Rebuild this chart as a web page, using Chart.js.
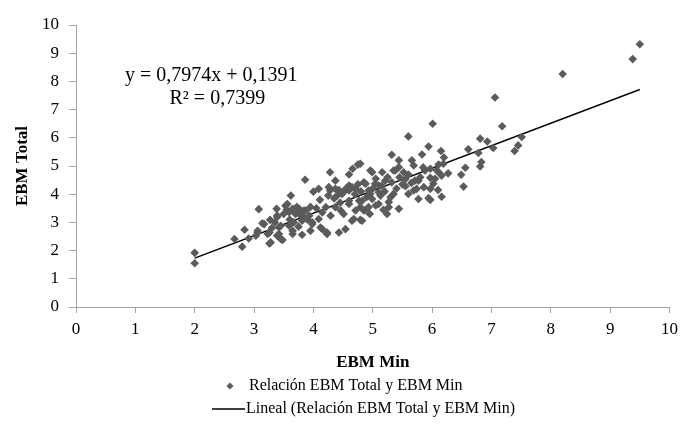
<!DOCTYPE html>
<html>
<head>
<meta charset="utf-8">
<script src="https://cdn.jsdelivr.net/npm/chart.js@4"></script>
<style>
    body { margin: 0; background: #fff; }
    #wrap { width: 684px; height: 434px; }
</style>
</head>
<body>
<div id="wrap"><canvas id="graph"></canvas></div>
<script>
// valores (EBM Min -> x, EBM Total -> y)
let ebmMin = [
    2.00, 2.00, 2.67, 2.80, 2.84, 2.91, 3.03, 3.06, 3.06, 3.08,
    3.14, 3.17, 3.23, 3.26, 3.26, 3.27, 3.28, 3.38, 3.39, 3.39,
    3.39, 3.42, 3.42, 3.45, 3.45, 3.48, 3.53, 3.56, 3.59, 3.59,
    3.62, 3.65, 3.65, 3.65, 3.67, 3.70, 3.76, 3.76, 3.79, 3.81,
    3.81, 3.84, 3.84, 3.86, 3.87, 3.93, 3.95, 3.98, 3.98, 4.00,
    4.09, 4.09, 4.11, 4.12, 4.15, 4.21, 4.23, 4.23, 4.26, 4.28,
    4.28, 4.29, 4.37, 4.37, 4.37, 4.43, 4.43, 4.46, 4.48, 4.51,
    4.54, 4.60, 4.60, 4.60, 4.60, 4.60, 4.65, 4.66, 4.68, 4.71,
    4.71, 4.75, 4.77, 4.79, 4.79, 4.79, 4.82, 4.82, 4.85, 4.85,
    4.88, 4.88, 4.93, 4.93, 4.96, 4.96, 4.99, 4.99, 5.04, 5.10,
    5.10, 5.10, 5.13, 5.16, 5.21, 5.24, 5.27, 5.27, 5.30, 5.32,
    5.32, 5.35, 5.35, 5.38, 5.44, 5.44, 5.44, 5.52, 5.55, 5.55,
    5.60, 5.60, 5.66, 5.69, 5.69, 5.71, 5.74, 5.77, 5.77, 5.83,
    5.86, 5.88, 5.94, 5.94, 5.97, 5.97, 5.97, 5.97, 6.01, 6.02,
    6.08, 6.11, 6.11, 6.15, 6.16, 6.16, 6.19, 6.27, 6.49, 6.53,
    6.56, 6.61, 6.78, 6.81, 6.81, 6.83, 6.93, 7.03, 7.06, 7.18,
    7.39, 7.45, 7.51, 8.20, 9.38, 9.50,
    4.40, 4.50, 4.55, 4.65, 4.70, 4.75, 4.80, 4.90, 5.00, 5.05,
    5.15, 5.20, 5.25, 5.40, 5.45, 5.50, 5.60, 5.65, 5.80, 5.85,
    6.05, 6.10, 6.20, 5.05, 5.18, 4.95, 4.45, 4.35, 4.25, 4.15,
    4.05, 3.95, 3.72, 3.55, 3.50, 3.35, 3.30, 3.60, 3.75, 3.90
]
let ebmTotal = [
    1.92, 1.55, 2.41, 2.14, 2.74, 2.43, 2.53, 2.64, 2.70, 3.47,
    2.97, 2.94, 2.59, 2.25, 2.64, 3.09, 2.29, 3.48, 3.24, 3.19,
    2.53, 2.59, 2.82, 2.41, 2.88, 2.38, 3.59, 3.65, 3.36, 2.88,
    3.95, 3.48, 2.70, 2.59, 3.00, 3.30, 3.48, 3.36, 3.24, 3.06,
    2.56, 3.42, 3.18, 4.51, 3.42, 3.24, 2.70, 3.00, 2.94, 4.09,
    3.12, 4.19, 3.80, 2.82, 2.76, 3.54, 2.59, 2.64, 4.25, 4.78,
    4.13, 3.24, 3.54, 4.48, 4.19, 4.15, 2.64, 3.42, 4.01, 3.30,
    2.76, 4.31, 4.70, 3.65, 3.77, 4.13, 3.06, 4.90, 3.12, 4.19,
    3.42, 5.05, 3.77, 3.09, 5.08, 3.54, 3.77, 3.06, 4.42, 3.42,
    4.37, 3.45, 4.13, 3.54, 4.84, 4.01, 4.78, 3.83, 4.37, 4.31,
    4.07, 3.65, 3.95, 4.78, 4.48, 3.30, 3.54, 3.72, 3.89, 4.42,
    5.40, 4.84, 4.01, 4.84, 5.20, 3.48, 4.96, 4.78, 4.54, 4.28,
    6.05, 4.01, 5.20, 5.02, 4.13, 4.48, 4.19, 4.48, 3.83, 5.41,
    4.25, 4.84, 5.69, 3.86, 4.90, 4.58, 4.19, 3.80, 6.50, 4.37,
    4.84, 4.78, 5.05, 5.53, 4.66, 3.91, 5.08, 4.74, 4.69, 4.27,
    4.94, 5.59, 5.46, 5.97, 4.98, 5.14, 5.87, 5.64, 7.43, 6.41,
    5.53, 5.73, 6.03, 8.26, 8.79, 9.32,
    3.95, 4.05, 4.20, 4.25, 4.00, 4.35, 4.10, 3.90, 4.20, 4.55,
    4.30, 4.10, 4.60, 4.20, 4.60, 4.35, 4.70, 4.40, 4.60, 4.95,
    4.55, 4.15, 5.30, 3.60, 3.45, 3.30, 3.70, 3.85, 3.95, 3.35,
    3.50, 3.55, 3.55, 3.45, 3.30, 3.00, 2.80, 3.10, 2.85, 3.10
]
let slope = 0.7974
let intercept = 0.1391
let rSquared = 0.7399
let xTicks = [0, 1, 2, 3, 4, 5, 6, 7, 8, 9, 10]
let yTicks = [0, 1, 2, 3, 4, 5, 6, 7, 8, 9, 10]

let serif = "'Liberation Serif', 'Times New Roman', serif"
let axisGray = '#a6a6a6'
let pointGray = '#5b5b5b'

let points = ebmMin.map((x, i) => ({ x: x, y: ebmTotal[i] }))
let xLo = Math.min(...ebmMin)
let xHi = Math.max(...ebmMin)
let trend = [
    { x: xLo, y: slope * xLo + intercept },
    { x: xHi, y: slope * xHi + intercept }
]

let comma = n => String(n).replace('.', ',')
let eqText = 'y = ' + comma(slope) + 'x + ' + comma(intercept)
let r2Text = 'R² = ' + comma(rSquared)

// ecuacion y leyenda dibujadas a mano (leyenda en dos filas, como Excel)
let extras = {
    id: 'extras',
    afterDraw(chart) {
        let ctx = chart.ctx
        let xs = chart.scales.x
        let ys = chart.scales.y
        ctx.save()
        ctx.fillStyle = '#000'
        ctx.font = '20px ' + serif
        ctx.textAlign = 'center'
        ctx.textBaseline = 'middle'
        let cx = xs.getPixelForValue(2.28)
        ctx.fillText(eqText, cx, ys.getPixelForValue(8.2))
        ctx.fillText(r2Text, cx + 6, ys.getPixelForValue(7.38))

        let sets = chart.data.datasets
        ctx.font = '16px ' + serif
        ctx.textAlign = 'left'
        // fila 1: marcador rombo
        let r1 = 386
        ctx.fillStyle = pointGray
        ctx.beginPath()
        ctx.moveTo(230, r1 - 3.5)
        ctx.lineTo(233.5, r1)
        ctx.lineTo(230, r1 + 3.5)
        ctx.lineTo(226.5, r1)
        ctx.closePath()
        ctx.fill()
        ctx.fillStyle = '#000'
        ctx.fillText(sets[0].label, 249, r1)
        // fila 2: linea
        let r2 = 409
        ctx.strokeStyle = '#000'
        ctx.lineWidth = 1.5
        ctx.beginPath()
        ctx.moveTo(212, r2)
        ctx.lineTo(245, r2)
        ctx.stroke()
        ctx.fillText(sets[1].label, 246, r2)
        ctx.restore()
    }
}

let graph = document.getElementById('graph').getContext('2d')

new Chart(graph, {
    type: 'scatter',
    data: {
        datasets: [
            {
                label: 'Relación EBM Total y EBM Min',
                data: points,
                pointStyle: 'rectRot',
                pointRadius: 4.3,
                pointBorderWidth: 0,
                backgroundColor: pointGray,
                borderColor: pointGray,
            },
            {
                type: 'line',
                label: 'Lineal (Relación EBM Total y EBM Min)',
                data: trend,
                borderColor: '#000',
                borderWidth: 1.5,
                pointRadius: 0,
                fill: false,
            }
        ]
    },
    options: {
        responsive: true,
        maintainAspectRatio: false,
        animation: false,
        layout: { padding: { left: 0, top: 25, right: 10, bottom: 52 } },
        plugins: {
            legend: { display: false },
            tooltip: { enabled: false }
        },
        scales: {
            x: {
                type: 'linear',
                min: 0,
                max: 10,
                afterBuildTicks: s => { s.ticks = xTicks.map(v => ({ value: v })) },
                afterFit: s => { s.height = 75 },
                ticks: { color: '#000', font: { family: serif, size: 17 }, padding: 6 },
                grid: { drawOnChartArea: false, drawTicks: true, tickLength: 6, color: axisGray },
                border: { color: axisGray, width: 1 },
                title: {
                    display: true,
                    text: 'EBM Min',
                    color: '#000',
                    font: { family: serif, size: 17, weight: 'bold' },
                    padding: { top: 0, bottom: 9 }
                }
            },
            y: {
                type: 'linear',
                min: 0,
                max: 10,
                afterBuildTicks: s => { s.ticks = yTicks.map(v => ({ value: v })) },
                afterFit: s => { s.width = 76 },
                ticks: { color: '#000', font: { family: serif, size: 17 }, padding: 10 },
                grid: { drawOnChartArea: false, drawTicks: true, tickLength: 7, color: axisGray },
                border: { color: axisGray, width: 1 },
                title: {
                    display: true,
                    text: 'EBM Total',
                    color: '#000',
                    font: { family: serif, size: 17, weight: 'bold' },
                    padding: { top: 12, bottom: 0 }
                }
            }
        }
    },
    plugins: [extras]
})
</script>
</body>
</html>
